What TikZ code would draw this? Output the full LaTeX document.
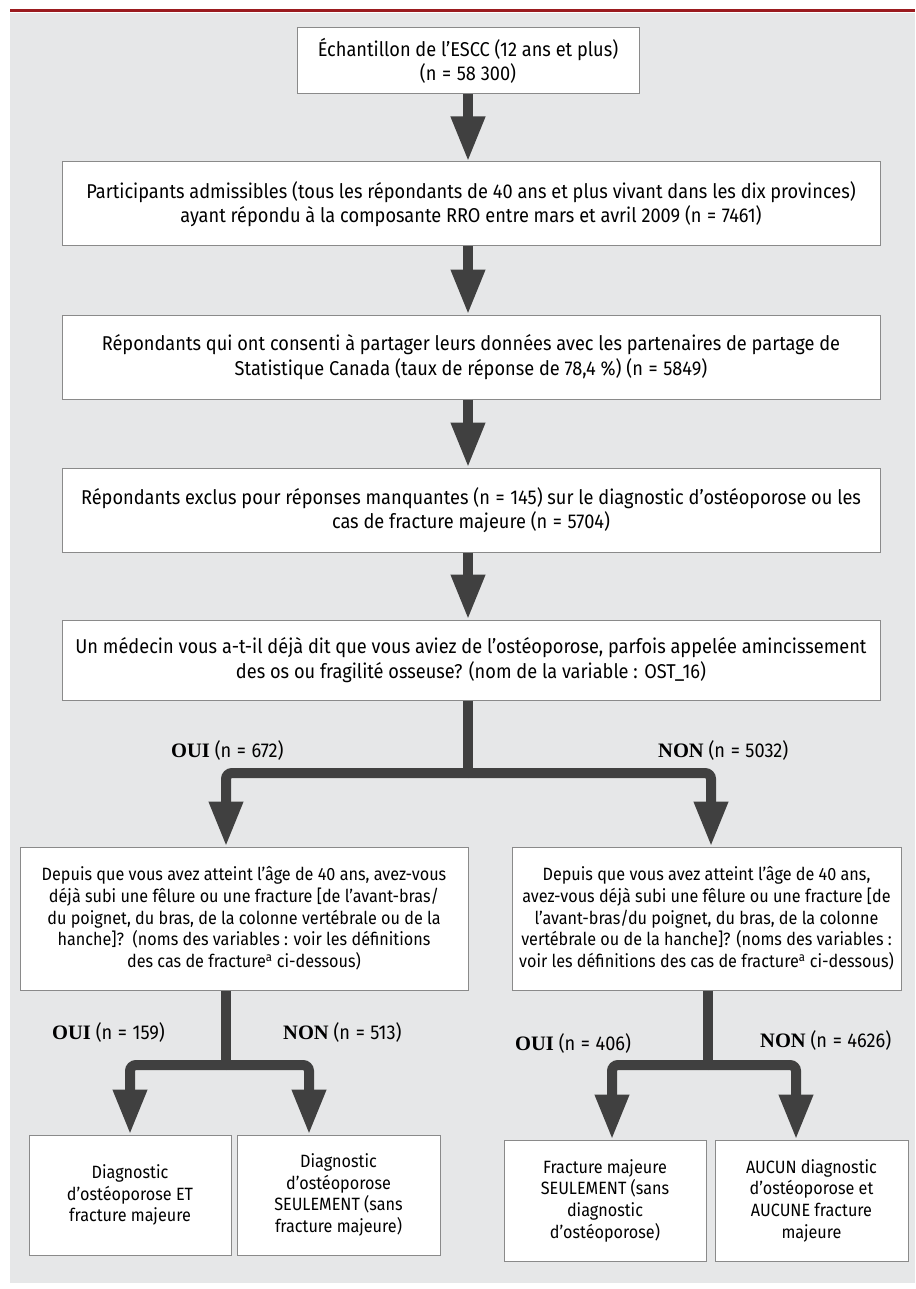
\documentclass[tikz,border=0pt]{standalone}
\usepackage{fontspec}
\setmainfont{Fira Sans}[FakeStretch=0.91]
\newfontfamily\labserif{Liberation Serif}
\usetikzlibrary{arrows.meta}
\definecolor{bggray}{HTML}{E6E7E8}
\definecolor{boxgray}{HTML}{8A8A8A}
\definecolor{arrgray}{HTML}{404040}
\definecolor{topred}{HTML}{9B1B1F}
\newcommand\mainfs{\fontsize{20}{24.5}\selectfont}
\newcommand\smallfs{\fontsize{17.8}{21.7}\selectfont}
\newcommand\eq{\ \kern0.8pt=\kern0.8pt\ }
\newcommand\lab[2]{{\labserif\fontsize{20.5}{24}\selectfont\bfseries #1} #2}
\tikzset{
  box/.style={draw=boxgray, line width=1pt, fill=white, inner sep=0pt, align=center, font=\mainfs},
  sbox/.style={box, font=\smallfs},
  conn/.style={draw=arrgray, line width=10pt, line cap=butt},
  arr/.style={conn, rounded corners=6pt, -{Triangle[width=32pt,length=45pt]}},
  labl/.style={font=\mainfs, inner sep=0pt, text=black}
}
\begin{document}
\begin{tikzpicture}[x=1pt,y=-1pt]
\useasboundingbox (0,0) rectangle (915,1289);
\fill[bggray] (10,13) rectangle (915,1283);
\draw[topred, line width=3pt] (10,10.5) -- (915,10.5);

% main column
\node[box, minimum width=342pt, minimum height=66pt] (b1) at (468,61)
  {Échantillon de l’ESCC (12 ans et plus)\\(n\eq 58 300)};
\node[box, minimum width=818pt, minimum height=84pt] (b2) at (471,204)
  {Participants admissibles (tous les répondants de 40 ans et plus vivant dans les dix provinces)\\ayant répondu à la composante RRO entre mars et avril 2009 (n\eq 7461)};
\node[box, minimum width=818pt, minimum height=84pt] (b3) at (471,357)
  {Répondants qui ont consenti à partager leurs données avec les partenaires de partage de\\Statistique Canada (taux de réponse de 78,4 \%) (n\eq 5849)};
\node[box, minimum width=818pt, minimum height=84pt] (b4) at (471,510)
  {Répondants exclus pour réponses manquantes (n\eq 145) sur le diagnostic d’ostéoporose ou les\\cas de fracture majeure (n\eq 5704)};
\node[box, minimum width=818pt, minimum height=80pt] (b5) at (471,660)
  {Un médecin vous a-t-il déjà dit que vous aviez de l’ostéoporose, parfois appelée amincissement\\des os ou fragilité osseuse? (nom de la variable : OST\_16)};

% second level
\node[sbox, minimum width=448pt, minimum height=143pt] (l2l) at (244,918.5)
  {Depuis que vous avez atteint l’âge de 40 ans, avez-vous\\déjà subi une fêlure ou une fracture [de l’avant-bras/\\du poignet, du bras, de la colonne vertébrale ou de la\\hanche]?~~(noms des variables : voir les définitions\\des cas de fracture\textsuperscript{a} ci-dessous)};
\node[sbox, minimum width=389pt, minimum height=143pt] (l2r) at (706.5,918.5)
  {Depuis que vous avez atteint l’âge de 40 ans,\\avez-vous déjà subi une fêlure ou une fracture [de\\l’avant-bras/du poignet, du bras, de la colonne\\vertébrale ou de la hanche]? (noms des variables :\\voir les définitions des cas de fracture\textsuperscript{a} ci-dessous)};

% bottom level
\node[sbox, minimum width=202pt, minimum height=120pt] (f1) at (130,1195)
  {Diagnostic\\d’ostéoporose ET\\fracture majeure};
\node[sbox, minimum width=203pt, minimum height=120pt] (f2) at (338.5,1195)
  {Diagnostic\\d’ostéoporose\\SEULEMENT (sans\\fracture majeure)};
\node[sbox, minimum width=202pt, minimum height=121pt] (f3) at (605,1200.5)
  {Fracture majeure\\SEULEMENT (sans\\diagnostic\\d’ostéoporose)};
\node[sbox, minimum width=193pt, minimum height=121pt] (f4) at (811.5,1200.5)
  {AUCUN diagnostic\\d’ostéoporose et\\AUCUNE fracture\\majeure};

% straight arrows
\draw[arr] (b1.south) -- (b1.south |- b2.north);
\draw[arr] (b1.south |- b2.south) -- (b1.south |- b3.north);
\draw[arr] (b1.south |- b3.south) -- (b1.south |- b4.north);
\draw[arr] (b1.south |- b4.south) -- (b1.south |- b5.north);

% first split
\coordinate (j1) at (468,773);
\coordinate (xl1) at (226,0);
\coordinate (xr1) at (711,0);
\draw[conn] (b1.south |- b5.south) -- (j1);
\draw[arr] (j1) -| (xl1 |- l2l.north);
\draw[arr] (j1) -| (xr1 |- l2r.north);
\node[labl, anchor=west] (oui1) at (171,750) {\lab{OUI}{(n\eq 672)}};
\node[labl, anchor=west] (non1) at (658,750) {\lab{NON}{(n\eq 5032)}};

% left split
\coordinate (j2) at (226,1065);
\coordinate (xl2) at (130,0);
\coordinate (xr2) at (309,0);
\draw[conn] (xl1 |- l2l.south) -- (j2);
\draw[arr] (j2) -| (xl2 |- f1.north);
\draw[arr] (j2) -| (xr2 |- f2.north);
\node[labl, anchor=west] (oui2) at (52,1032) {\lab{OUI}{(n\eq 159)}};
\node[labl, anchor=west] (non2) at (283,1032) {\lab{NON}{(n\eq 513)}};

% right split
\coordinate (j3) at (708,1065);
\coordinate (xl3) at (612,0);
\coordinate (xr3) at (796,0);
\draw[conn] (j3 |- l2r.south) -- (j3);
\draw[arr] (j3) -| (xl3 |- f3.north);
\draw[arr] (j3) -| (xr3 |- f4.north);
\node[labl, anchor=west] (oui3) at (515,1043) {\lab{OUI}{(n\eq 406)}};
\node[labl, anchor=west] (non3) at (760,1040) {\lab{NON}{(n\eq 4626)}};
\end{tikzpicture}
\end{document}
